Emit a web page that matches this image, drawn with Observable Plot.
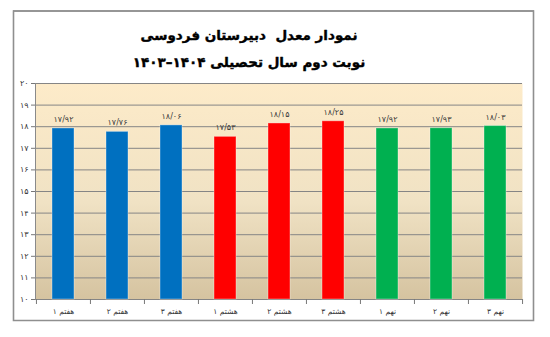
<!DOCTYPE html>
<html>
<head>
<meta charset="utf-8">
<script src="https://cdn.jsdelivr.net/npm/d3@7"></script>
<script src="https://cdn.jsdelivr.net/npm/@observablehq/plot@0.6"></script>
<style>
  html, body { margin: 0; padding: 0; background: #fff; }
</style>
</head>
<body>
<div id="wrap"></div>
<script>
const categories = ["هفتم ۱", "هفتم ۲", "هفتم ۳", "هشتم ۱", "هشتم ۲", "هشتم ۳", "نهم ۱", "نهم ۲", "نهم ۳"];
const values = [17.92, 17.76, 18.06, 17.53, 18.15, 18.25, 17.92, 17.93, 18.03];
const grades = ["هفتم", "هفتم", "هفتم", "هشتم", "هشتم", "هشتم", "نهم", "نهم", "نهم"];
const gradeColors = ["#0070c0", "#ff0000", "#00b050"];
const yTicks = [10, 11, 12, 13, 14, 15, 16, 17, 18, 19, 20];
const title1 = "نمودار معدل  دبیرستان فردوسی";
const title2 = "نوبت دوم سال تحصیلی ۱۴۰۴–۱۴۰۳";

const fa = s => String(s).replace(/\d/g, d => "۰۱۲۳۴۵۶۷۸۹"[d]);
const data = categories.map((c, i) => ({cat: c, value: values[i], grade: grades[i], label: fa(values[i].toFixed(2).replace(".", "/"))}));

const W = 550, H = 337, mL = 35, mR = 28, mT = 83, mB = 38;
const bw = (W - mL - mR) / categories.length;

const chart = Plot.plot({
  width: W, height: H,
  marginLeft: mL, marginRight: mR, marginTop: mT, marginBottom: mB,
  style: {fontFamily: "DejaVu Sans, sans-serif", background: "#fff", overflow: "visible"},
  x: {domain: categories, padding: 0},
  y: {domain: [10, 20]},
  color: {domain: ["هفتم", "هشتم", "نهم"], range: gradeColors},
  marks: [
    Plot.frame({fill: "url(#bgGrad)"}),
    Plot.ruleY(yTicks, {stroke: "#858585", strokeWidth: 1}),
    Plot.frame({anchor: "left", stroke: "#8a8a8a"}),
    Plot.barY(data, {x: "cat", y1: 10, y2: "value", fill: "grade", insetLeft: 16, insetRight: 16, stroke: "#ffffff", strokeOpacity: 0.35, strokeWidth: 1}),
    Plot.text(data, {x: "cat", y: "value", text: "label", dy: -9, fontSize: 8, fill: "#3a3a3a"}),
    Plot.axisY({ticks: yTicks, tickFormat: fa, tickSize: 4, tickPadding: 3, fontSize: 8, stroke: "#777", fill: "#333", label: null}),
    Plot.axisX({tickSize: 0, tickPadding: 9, fontSize: 7.5, fill: "#333", label: null}),
    Plot.axisX({tickSize: 5, text: null, dx: -bw / 2, stroke: "#777", label: null}),
    Plot.axisX([categories[categories.length - 1]], {tickSize: 5, text: null, dx: bw / 2, stroke: "#777", label: null}),
    Plot.text([title1], {frameAnchor: "top", lineAnchor: "middle", dx: -30, dy: -48, fontSize: 13.5, fontWeight: "bold", fill: "#000", stroke: "#000", strokeWidth: 0.4}),
    Plot.text([title2], {frameAnchor: "top", lineAnchor: "middle", dx: -30, dy: -21, fontSize: 13.5, fontWeight: "bold", fill: "#000", stroke: "#000", strokeWidth: 0.4})
  ]
});

const svg = d3.select(chart);
const defs = svg.insert("defs", ":first-child");
const g = defs.append("linearGradient").attr("id", "bgGrad").attr("x1", 0).attr("y1", 0).attr("x2", 0).attr("y2", 1);
g.append("stop").attr("offset", "0%").attr("stop-color", "#fdebc9");
g.append("stop").attr("offset", "55%").attr("stop-color", "#f0e2c4");
g.append("stop").attr("offset", "100%").attr("stop-color", "#d5c3a0");
// decorative outer chart border
svg.append("path").attr("d", "M13.5,11V320.5H533.5V11Z")
  .attr("fill", "none").attr("stroke", "#8f8f8f").attr("stroke-width", 1.6);
svg.append("line").attr("x1", 13).attr("x2", 534).attr("y1", 11).attr("y2", 11)
  .attr("stroke", "#8f8f8f").attr("stroke-width", 1.6);

document.getElementById("wrap").appendChild(chart);
</script>
</body>
</html>
